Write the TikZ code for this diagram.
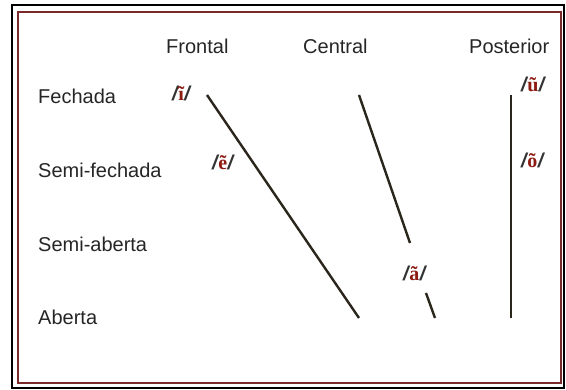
\documentclass[tikz,border=0pt]{standalone}
\usepackage{fontspec}
\setmainfont{Liberation Sans}
\newfontfamily\vserif{Liberation Serif}
\definecolor{vred}{HTML}{8E1B12}
\definecolor{framered}{HTML}{7A2A2A}
\definecolor{lineclr}{HTML}{2B261C}
\newcommand{\vow}[1]{{\itshape\bfseries /}\kern0.5pt{\color{vred}\vserif\bfseries #1}\kern0.5pt{\itshape\bfseries /}}
\begin{document}
\begin{tikzpicture}[x=1pt,y=-1pt,
  lbl/.style={anchor=base west,inner sep=0pt,font=\fontsize{20}{23}\selectfont,text=black!85},
  vlbl/.style={anchor=base west,inner sep=0pt,font=\fontsize{20}{23}\selectfont,text=black!80},
  vline/.style={draw=lineclr,line width=2.4pt}]
\useasboundingbox (0,0) rectangle (566,390);
\fill[white] (0,0) rectangle (566,390);
\draw[black,line width=2.5pt] (12,5) rectangle (564,388);
\draw[framered,line width=1.6pt] (18,12) rectangle (561,383);
% column headers
\node[lbl] (fr) at (166,54) {Frontal};
\node[lbl] (ce) at (303,54) {Central};
\node[lbl] (po) at (469,54) {Posterior};
% row labels
\node[lbl] (fe) at (38,104) {Fechada};
\node[lbl] (sf) at (38,178) {Semi-fechada};
\node[lbl] (sa) at (38,252) {Semi-aberta};
\node[lbl] (ab) at (38,325) {Aberta};
% vowel labels
\node[vlbl] (vi) at (172,101) {\vow{ĩ}};
\node[vlbl] (ve) at (212,170) {\vow{ẽ}};
\node[vlbl] (va) at (403,281) {\vow{ã}};
\node[vlbl] (vu) at (521,92) {\vow{ũ}};
\node[vlbl] (vo) at (521,168) {\vow{õ}};
% line endpoints
\coordinate (a1) at (207,95);
\coordinate (a2) at (359,318);
\coordinate (b1) at (359,95);
\coordinate (b2) at (410,243);
\coordinate (c1) at (426,293);
\coordinate (c2) at (435,318);
\coordinate (d1) at (511,95);
\coordinate (d2) at (511,318);
\draw[vline] (a1) -- (a2);
\draw[vline] (b1) -- (b2);
\draw[vline] (c1) -- (c2);
\draw[vline] (d1) -- (d2);
\end{tikzpicture}
\end{document}
